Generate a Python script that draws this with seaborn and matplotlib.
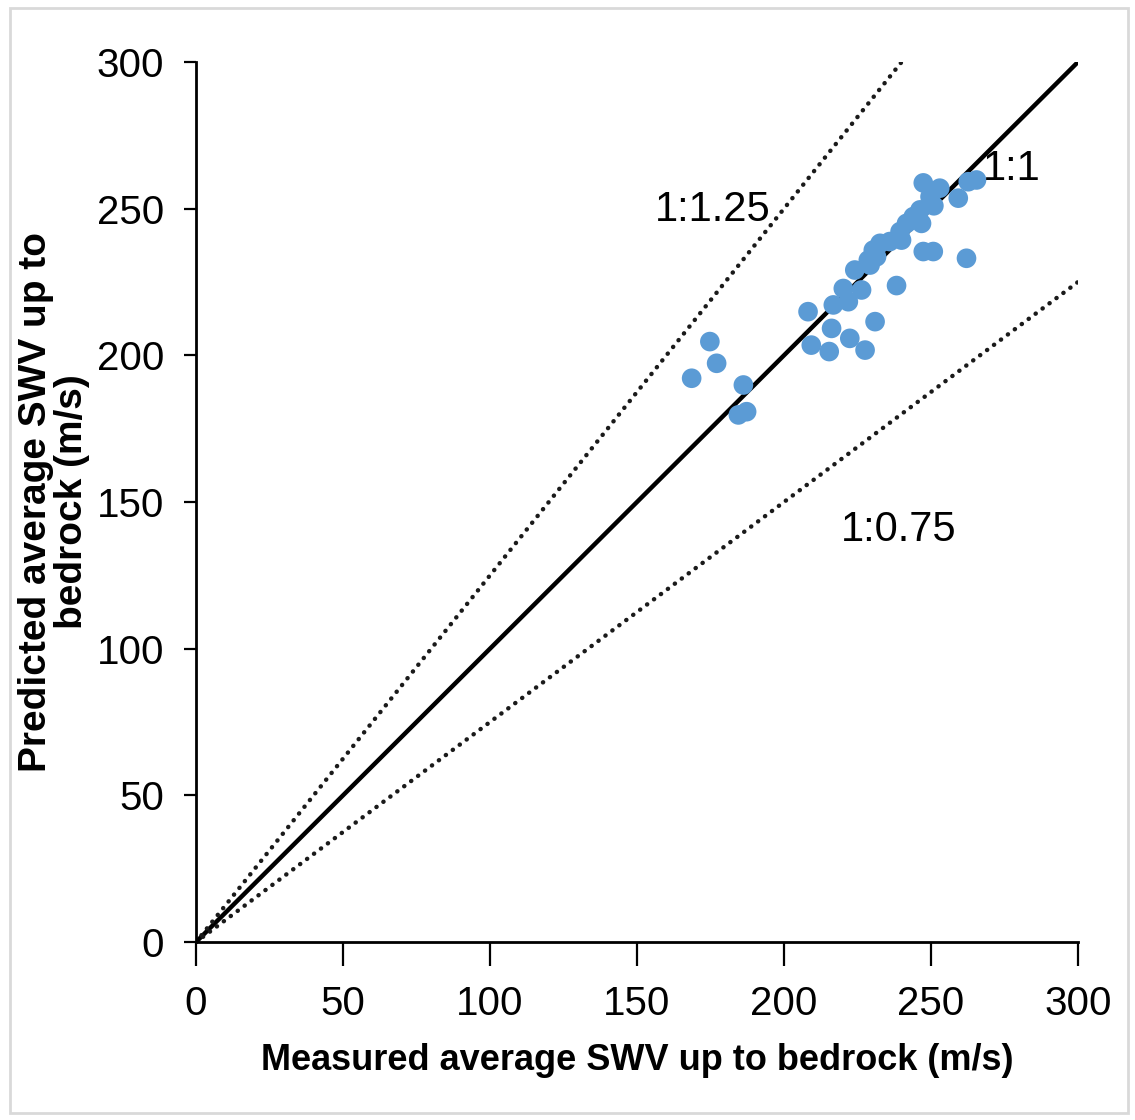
import matplotlib
matplotlib.use("Agg")
import matplotlib.pyplot as plt
from matplotlib.patches import Rectangle
import seaborn as sns
import pandas as pd

# Measured vs predicted average shear-wave velocity (m/s)
measured = [168.6, 174.8, 177.1, 186.2, 187.3, 184.5, 208.2, 209.3, 215.4, 216.2,
            216.8, 220.2, 221.9, 222.4, 224.1, 226.4, 227.6, 229.3, 231.0, 228.7,
            230.4, 231.5, 232.7, 236.0, 238.3, 240.0, 239.5, 241.7, 244.0, 246.8,
            246.3, 247.4, 250.8, 249.7, 247.4, 253.0, 259.3, 262.1, 262.7, 265.5,
            251.0]
predicted = [192.2, 204.7, 197.3, 189.9, 180.8, 179.7, 214.9, 203.5, 201.3, 209.2,
             217.2, 222.8, 218.3, 205.8, 229.1, 222.3, 201.8, 230.8, 211.5, 232.5,
             235.9, 233.6, 238.2, 238.8, 223.8, 239.3, 242.2, 245.0, 247.3, 245.0,
             249.6, 235.4, 235.4, 254.1, 258.8, 257.0, 253.6, 233.1, 259.2, 259.8,
             251.0]

# Reference lines: end points of the 1:1, 1:1.25 and 1:0.75 lines
line_11_x = [0, 300]
line_11_y = [0, 300]
line_125_x = [0, 240]
line_125_y = [0, 300]
line_075_x = [0, 300]
line_075_y = [0, 225]

ticks = [0, 50, 100, 150, 200, 250, 300]

sns.set_theme(style="ticks")
plt.rcParams["font.family"] = ["Liberation Sans", "DejaVu Sans"]
plt.rcParams["text.color"] = "black"
plt.rcParams["axes.labelcolor"] = "black"
plt.rcParams["xtick.color"] = "black"
plt.rcParams["ytick.color"] = "black"

fig = plt.figure(figsize=(11.35, 11.2), dpi=100)
fig.patch.set_facecolor("white")
fig.patches.append(Rectangle((0.009, 0.006), 0.985, 0.987, transform=fig.transFigure,
                             fill=False, edgecolor="#d9d9d9", linewidth=2))
ax = fig.add_axes([0.1727, 0.1589, 0.777, 0.7857])

df = pd.DataFrame({"measured": measured, "predicted": predicted})

dots = (0, (0.05, 1.9))
sns.lineplot(x=line_11_x, y=line_11_y, ax=ax, color="black", linewidth=3.2)
sns.lineplot(x=line_125_x, y=line_125_y, ax=ax, color="#1a1a1a", linewidth=3.2,
             linestyle=dots, dash_capstyle="round")
sns.lineplot(x=line_075_x, y=line_075_y, ax=ax, color="#1a1a1a", linewidth=3.2,
             linestyle=dots, dash_capstyle="round")
sns.scatterplot(data=df, x="measured", y="predicted", ax=ax, color="#5B9BD5",
                s=200, edgecolor="none", zorder=3)

ax.text(175.9, 249.5, "1:1.25", fontsize=30, ha="center", va="center")
ax.text(277.6, 263.5, "1:1", fontsize=30, ha="center", va="center")
ax.text(239, 140.5, "1:0.75", fontsize=30, ha="center", va="center")

ax.set_xlim(0, 300)
ax.set_ylim(0, 300)
ax.set_xticks(ticks)
ax.set_yticks(ticks)
ax.tick_params(axis="x", length=17, width=1.6, pad=14, labelsize=29)
ax.tick_params(axis="y", length=9, width=1.6, pad=14, labelsize=29)
for s in ["left", "bottom"]:
    ax.spines[s].set_linewidth(2)
    ax.spines[s].set_color("black")
sns.despine(ax=ax)

ax.set_xlabel("Measured average SWV up to bedrock (m/s)", fontsize=26,
              fontweight="bold", labelpad=14)
ax.set_ylabel("Predicted average SWV up to\nbedrock (m/s)", fontsize=28,
              fontweight="bold", linespacing=1.0)
ax.yaxis.set_label_coords(-0.12, 0.5)

fig.savefig("out.png", dpi=100)
